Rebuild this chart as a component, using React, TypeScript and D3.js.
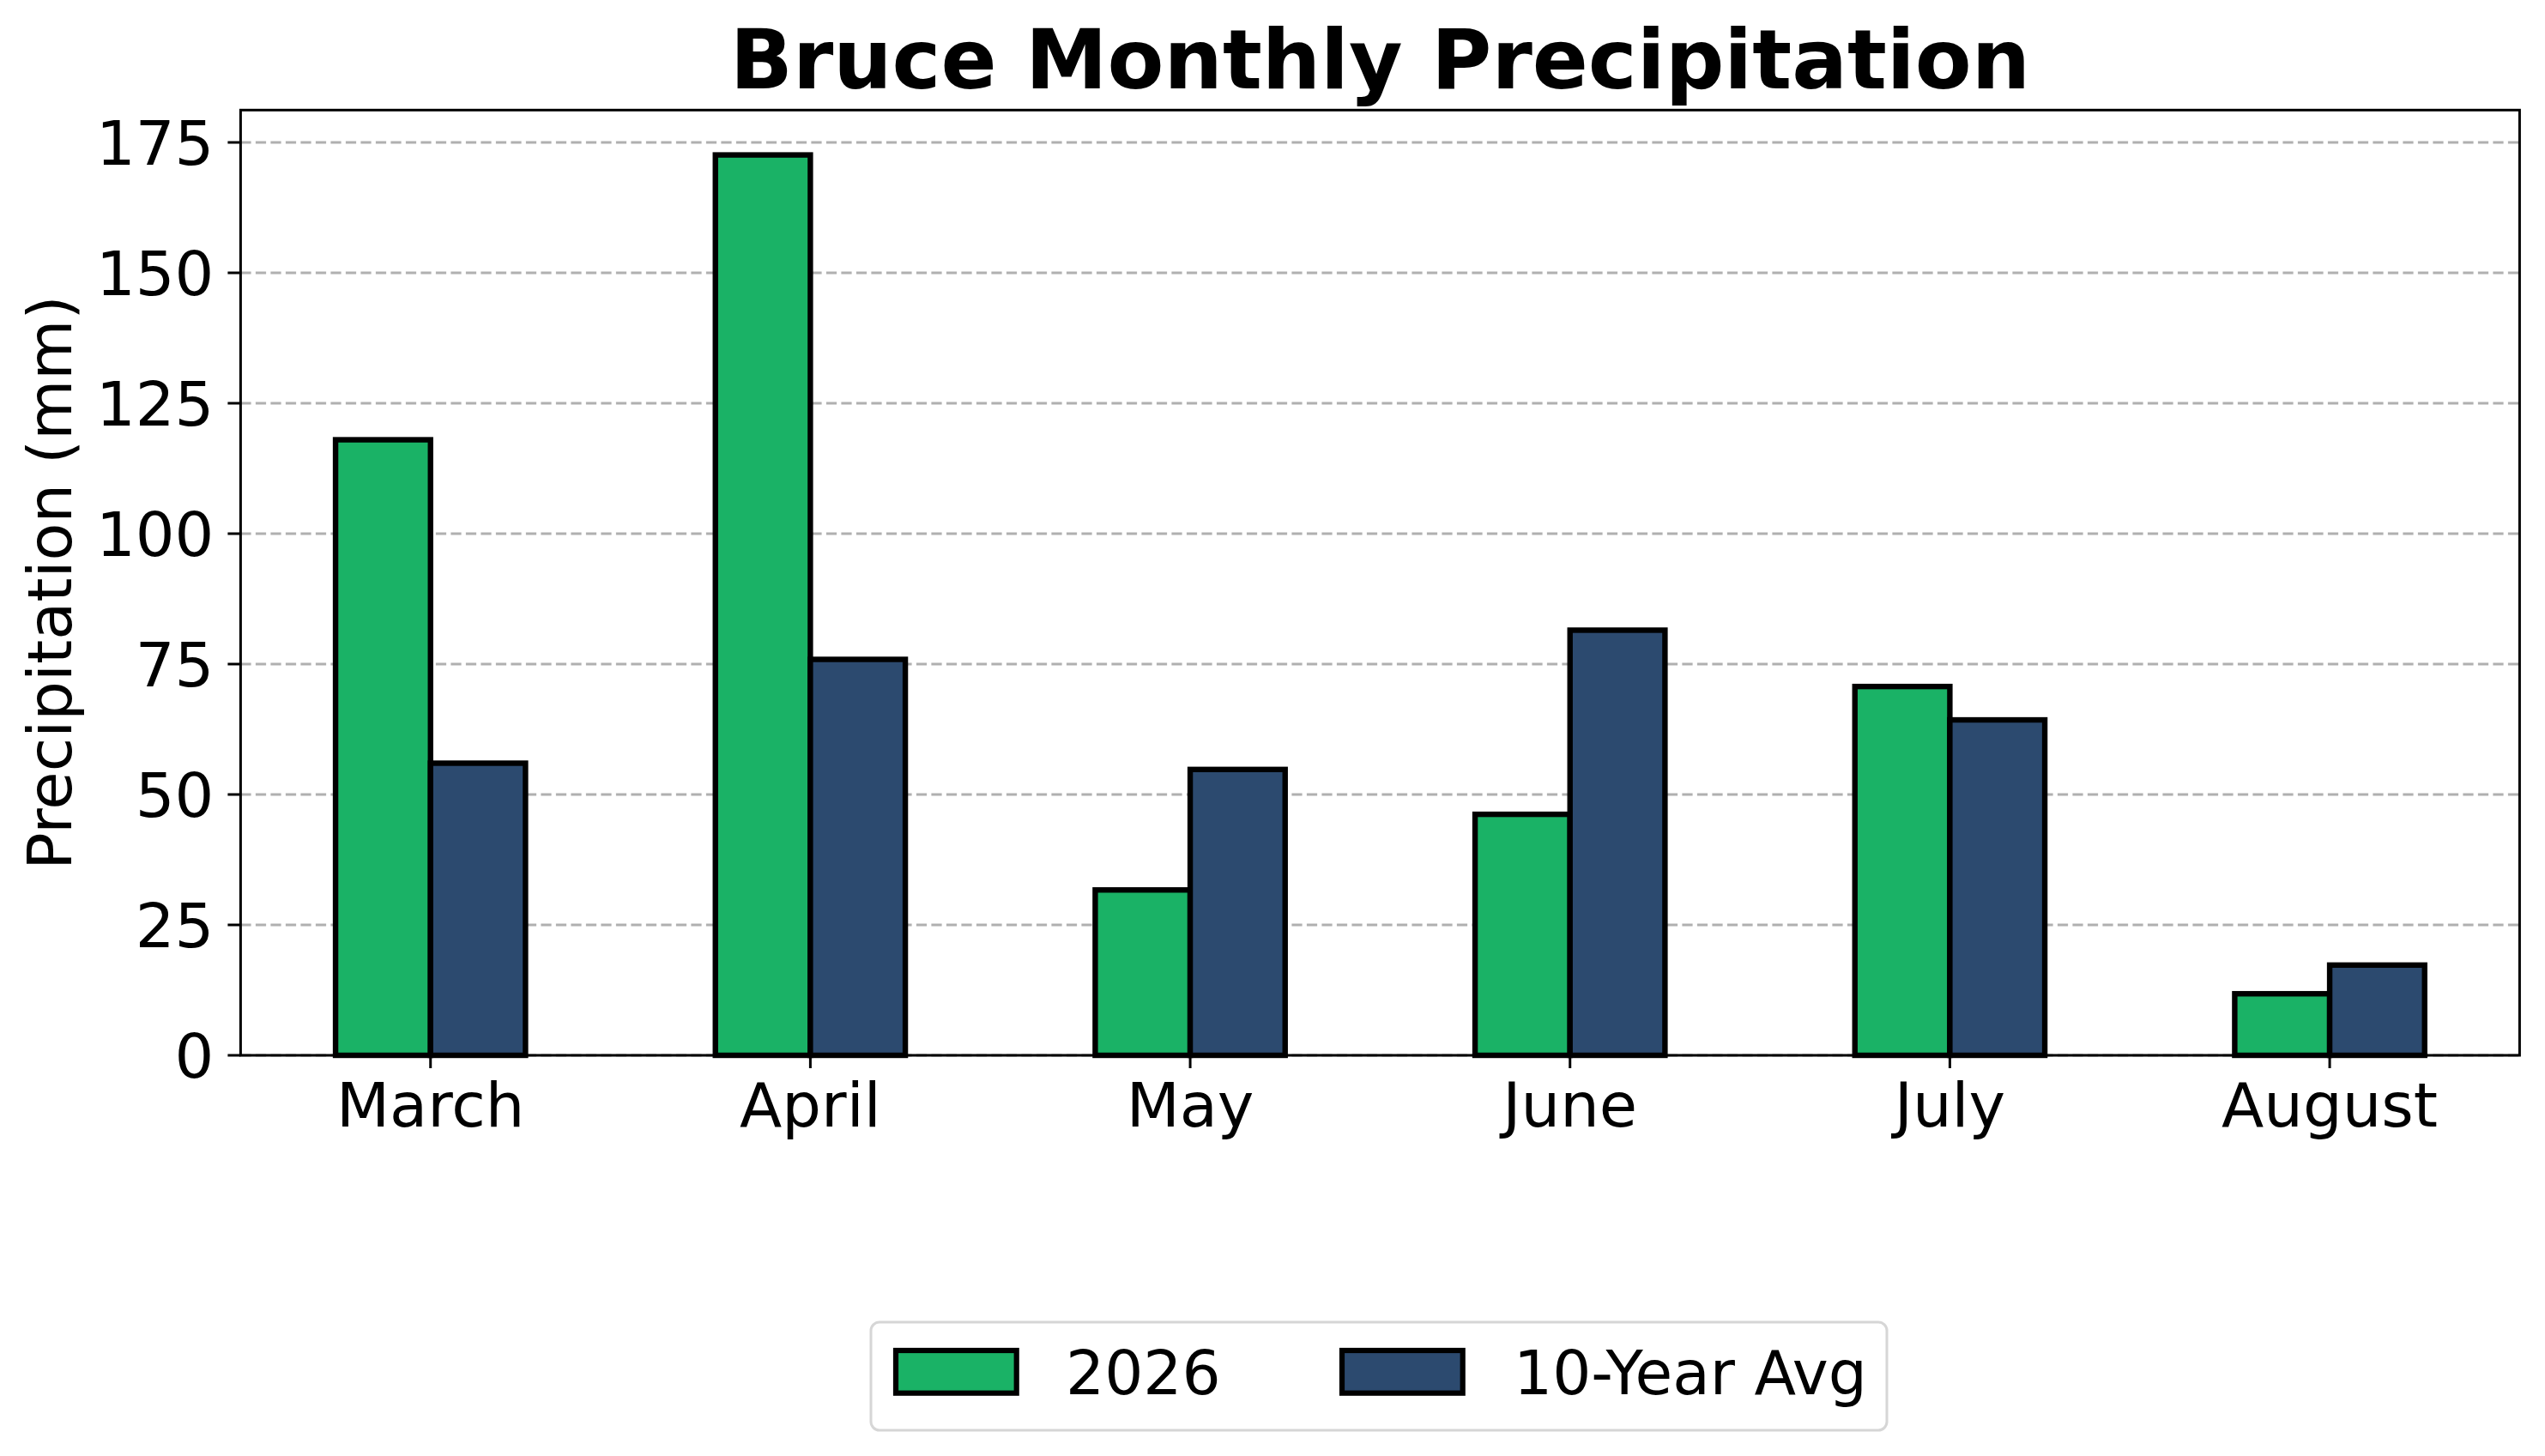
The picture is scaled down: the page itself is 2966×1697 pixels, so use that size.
import React from "react";
import * as d3 from "d3";

const months = ["March", "April", "May", "June", "July", "August"];
const series = ["2026", "10-Year Avg"];
const values2026 = [118.0, 172.6, 31.7, 46.2, 70.7, 11.8];
const valuesAvg = [56.0, 75.9, 54.8, 81.5, 64.3, 17.3];
const yTicks = [0, 25, 50, 75, 100, 125, 150, 175];
const colors = ["#1ab266", "#2c4a6f"];

const W = 2966;
const H = 1697;
const FONT = "'DejaVu Sans', sans-serif";

export default function App() {
  const left = 280.4, right = 2936.4, top = 128.3, bottom = 1230;
  const x = d3.scaleBand<string>().domain(months).range([left, right]).paddingInner(0).paddingOuter(0);
  const bw = x.bandwidth();
  const xs = d3.scaleBand<string>().domain(series).range([bw * 0.25, bw * 0.75]).padding(0);
  const y = d3.scaleLinear().domain([0, 181.2]).range([bottom, top]);
  const data = [values2026, valuesAvg];

  const legendItems = [
    { label: series[0], color: colors[0], px: 1044, tx: 1242 },
    { label: series[1], color: colors[1], px: 1564, tx: 1764 },
  ];

  return (
    <svg width={W} height={H} style={{ position: "absolute", left: 0, top: 0, background: "#fff" }} fontFamily={FONT}>
      <rect x={0} y={0} width={W} height={H} fill="#fff" />
      {yTicks.map((t) => (
        <line key={"g" + t} x1={left} x2={right} y1={y(t)} y2={y(t)} stroke="#b0b0b0" strokeWidth={3.2} strokeDasharray="12.2 5.3" />
      ))}
      {series.map((s, si) =>
        months.map((m, mi) => (
          <rect
            key={s + m}
            x={(x(m) as number) + (xs(s) as number)}
            y={y(data[si][mi])}
            width={xs.bandwidth()}
            height={y(0) - y(data[si][mi])}
            fill={colors[si]}
            stroke="#000"
            strokeWidth={6.4}
          />
        ))
      )}
      <rect x={left} y={top} width={right - left} height={bottom - top} fill="none" stroke="#000" strokeWidth={3} />
      {yTicks.map((t) => (
        <g key={"yt" + t}>
          <line x1={left - 15} x2={left} y1={y(t)} y2={y(t)} stroke="#000" strokeWidth={3} />
          <text x={left - 31} y={y(t)} dy="0.355em" textAnchor="end" fontSize={72} fill="#000">
            {t}
          </text>
        </g>
      ))}
      {months.map((m) => {
        const cx = (x(m) as number) + bw / 2;
        return (
          <g key={"xt" + m}>
            <line x1={cx} x2={cx} y1={bottom} y2={bottom + 15} stroke="#000" strokeWidth={3} />
            <text x={cx} y={1313} textAnchor="middle" fontSize={72} fill="#000">
              {m}
            </text>
          </g>
        );
      })}
      <text transform={`translate(82.6, ${(top + bottom) / 2}) rotate(-90)`} textAnchor="middle" fontSize={72} fill="#000">
        Precipitation (mm)
      </text>
      <text x={(left + right) / 2} y={103.3} textAnchor="middle" fontSize={96} fontWeight="bold" fill="#000">
        Bruce Monthly Precipitation
      </text>
      <rect x={1015} y={1541} width={1184} height={126} rx={10} ry={10} fill="#fff" fillOpacity={0.8} stroke="#d6d6d6" strokeWidth={3} />
      {legendItems.map((it) => (
        <g key={"lg" + it.label}>
          <rect x={it.px} y={1574} width={140.7} height={49.7} fill={it.color} stroke="#000" strokeWidth={6.2} />
          <text x={it.tx} y={1625} fontSize={71} fill="#000">
            {it.label}
          </text>
        </g>
      ))}
    </svg>
  );
}
